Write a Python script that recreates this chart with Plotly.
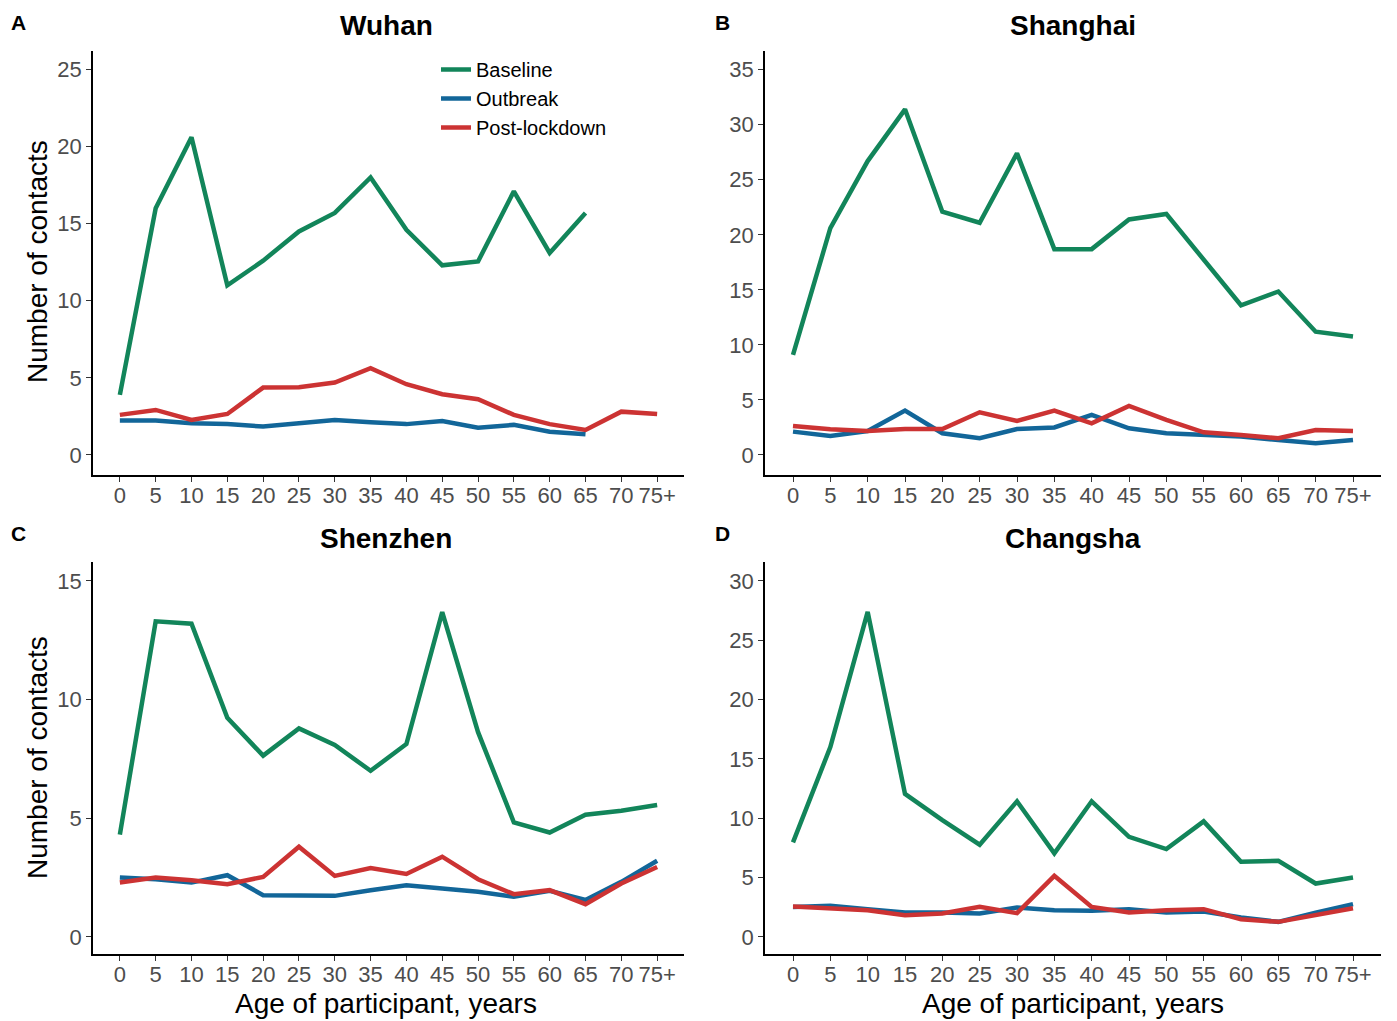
import plotly.graph_objects as go

ages = ["0", "5", "10", "15", "20", "25", "30", "35", "40", "45", "50", "55", "60", "65", "70", "75+"]
series_names = ["Baseline", "Outbreak", "Post-lockdown"]
colors = {"Baseline": "#12855A", "Outbreak": "#126699", "Post-lockdown": "#CC3333"}

wuhan_baseline = [3.9, 16.0, 20.6, 11.0, 12.6, 14.5, 15.7, 18.0, 14.6, 12.3, 12.55, 17.1, 13.1, 15.7, None, None]
wuhan_outbreak = [2.23, 2.23, 2.06, 2.0, 1.84, 2.06, 2.27, 2.12, 2.0, 2.2, 1.77, 1.95, 1.5, 1.34, None, None]
wuhan_post = [2.6, 2.92, 2.27, 2.66, 4.37, 4.39, 4.7, 5.63, 4.59, 3.94, 3.61, 2.6, 2.0, 1.62, 2.81, 2.66]

shanghai_baseline = [9.1, 20.6, 26.7, 31.4, 22.1, 21.1, 27.4, 18.7, 18.7, 21.4, 21.9, 17.8, 13.6, 14.85, 11.2, 10.76]
shanghai_outbreak = [2.12, 1.73, 2.18, 4.03, 1.97, 1.52, 2.36, 2.5, 3.64, 2.42, 1.97, 1.82, 1.67, 1.36, 1.06, 1.36]
shanghai_post = [2.64, 2.33, 2.18, 2.36, 2.36, 3.88, 3.09, 4.03, 2.88, 4.45, 3.18, 2.06, 1.82, 1.52, 2.27, 2.18]

shenzhen_baseline = [4.31, 13.3, 13.2, 9.23, 7.64, 8.79, 8.09, 7.0, 8.13, 13.69, 8.63, 4.83, 4.4, 5.15, 5.32, 5.56]
shenzhen_outbreak = [2.5, 2.43, 2.29, 2.6, 1.76, 1.73, 1.73, 1.97, 2.18, 2.04, 1.9, 1.69, 1.94, 1.56, 2.32, 3.21]
shenzhen_post = [2.29, 2.5, 2.39, 2.22, 2.53, 3.8, 2.57, 2.9, 2.65, 3.38, 2.43, 1.8, 1.97, 1.38, 2.25, 2.95]

changsha_baseline = [7.97, 16.0, 27.4, 12.05, 9.85, 7.77, 11.43, 7.04, 11.43, 8.44, 7.4, 9.74, 6.33, 6.42, 4.5, 5.01]
changsha_outbreak = [2.53, 2.62, 2.34, 2.05, 2.05, 1.97, 2.48, 2.25, 2.2, 2.34, 2.05, 2.14, 1.63, 1.27, 2.05, 2.76]
changsha_post = [2.56, 2.42, 2.25, 1.83, 1.97, 2.53, 2.0, 5.15, 2.53, 2.05, 2.25, 2.34, 1.49, 1.27, 1.86, 2.42]

cities = ["Wuhan", "Shanghai", "Shenzhen", "Changsha"]
letters = ["A", "B", "C", "D"]
city_data = {
    "Wuhan": [wuhan_baseline, wuhan_outbreak, wuhan_post],
    "Shanghai": [shanghai_baseline, shanghai_outbreak, shanghai_post],
    "Shenzhen": [shenzhen_baseline, shenzhen_outbreak, shenzhen_post],
    "Changsha": [changsha_baseline, changsha_outbreak, changsha_post],
}
y_ranges = [[-1.3, 26.2], [-1.82, 36.7], [-0.72, 15.8], [-1.44, 31.6]]

W, H = 1397, 1021
def px(x):
    return x / W
def py(y):
    return 1 - y / H

x_domains = [[px(93), px(684)], [px(765), px(1381)], [px(93), px(684)], [px(765), px(1381)]]
y_domains = [[py(475), py(51)], [py(475), py(51)], [py(954), py(562)], [py(954), py(562)]]

FONT = "Liberation Sans, Arial, sans-serif"
fig = go.Figure()

for i, city in enumerate(cities):
    xa = "x" if i == 0 else f"x{i+1}"
    ya = "y" if i == 0 else f"y{i+1}"
    for j, name in enumerate(series_names):
        fig.add_trace(go.Scatter(
            x=ages, y=city_data[city][j], mode="lines", name=name,
            line=dict(color=colors[name], width=4.5),
            xaxis=xa, yaxis=ya, showlegend=(i == 0), legendgroup=name,
            connectgaps=False, hoverinfo="skip",
        ))

layout = dict(
    width=W, height=H, margin=dict(l=0, r=0, t=0, b=0),
    plot_bgcolor="white", paper_bgcolor="white",
    font=dict(family=FONT, color="black"),
    showlegend=True,
    legend=dict(x=px(436), y=py(50), xanchor="left", yanchor="top",
                font=dict(size=20, family=FONT, color="black"),
                bgcolor="rgba(0,0,0,0)", tracegroupgap=0, itemwidth=30),
)
for i in range(4):
    xk = "xaxis" if i == 0 else f"xaxis{i+1}"
    yk = "yaxis" if i == 0 else f"yaxis{i+1}"
    ya = "y" if i == 0 else f"y{i+1}"
    xa = "x" if i == 0 else f"x{i+1}"
    layout[xk] = dict(
        domain=x_domains[i], anchor=ya, type="category",
        categoryorder="array", categoryarray=ages,
        range=[-0.75, 15.75], showgrid=False, zeroline=False,
        showline=True, linecolor="black", linewidth=1.5,
        ticks="outside", ticklen=5, tickwidth=1.2, tickcolor="#333333",
        tickfont=dict(size=22, color="#4D4D4D", family=FONT),
        tickangle=0, fixedrange=True, ticklabelstandoff=-5,
    )
    layout[yk] = dict(
        domain=y_domains[i], anchor=xa, range=y_ranges[i],
        tick0=0, dtick=5, showgrid=False, zeroline=False,
        showline=True, linecolor="black", linewidth=1.5,
        ticks="outside", ticklen=5, tickwidth=1.2, tickcolor="#333333",
        tickfont=dict(size=22, color="#4D4D4D", family=FONT),
        fixedrange=True,
    )
fig.update_layout(**layout)

annotations = []
title_pos = [(386, 25), (1073, 25), (386, 538), (1073, 538)]
letter_pos = [(18, 22), (722, 22), (18, 533), (722, 533)]
for i, city in enumerate(cities):
    annotations.append(dict(text=f"<b>{city}</b>", x=px(title_pos[i][0]), y=py(title_pos[i][1]),
                            xref="paper", yref="paper", showarrow=False,
                            xanchor="center", yanchor="middle",
                            font=dict(size=28, family=FONT, color="black")))
    annotations.append(dict(text=f"<b>{letters[i]}</b>", x=px(letter_pos[i][0]), y=py(letter_pos[i][1]),
                            xref="paper", yref="paper", showarrow=False,
                            xanchor="center", yanchor="middle",
                            font=dict(size=21, family=FONT, color="black")))
for yc in [262, 758]:
    annotations.append(dict(text="Number of contacts", x=px(37), y=py(yc), xref="paper", yref="paper",
                            showarrow=False, textangle=-90, xanchor="center", yanchor="middle",
                            font=dict(size=28, family=FONT, color="black")))
for xc in [386, 1073]:
    annotations.append(dict(text="Age of participant, years", x=px(xc), y=py(1003), xref="paper", yref="paper",
                            showarrow=False, xanchor="center", yanchor="middle",
                            font=dict(size=28, family=FONT, color="black")))
fig.update_layout(annotations=annotations)

fig.write_html(
    "out.html",
    config={"displayModeBar": False},
    post_script="document.body.style.margin='0';document.body.style.padding='0';document.body.style.overflow='hidden';",
)
